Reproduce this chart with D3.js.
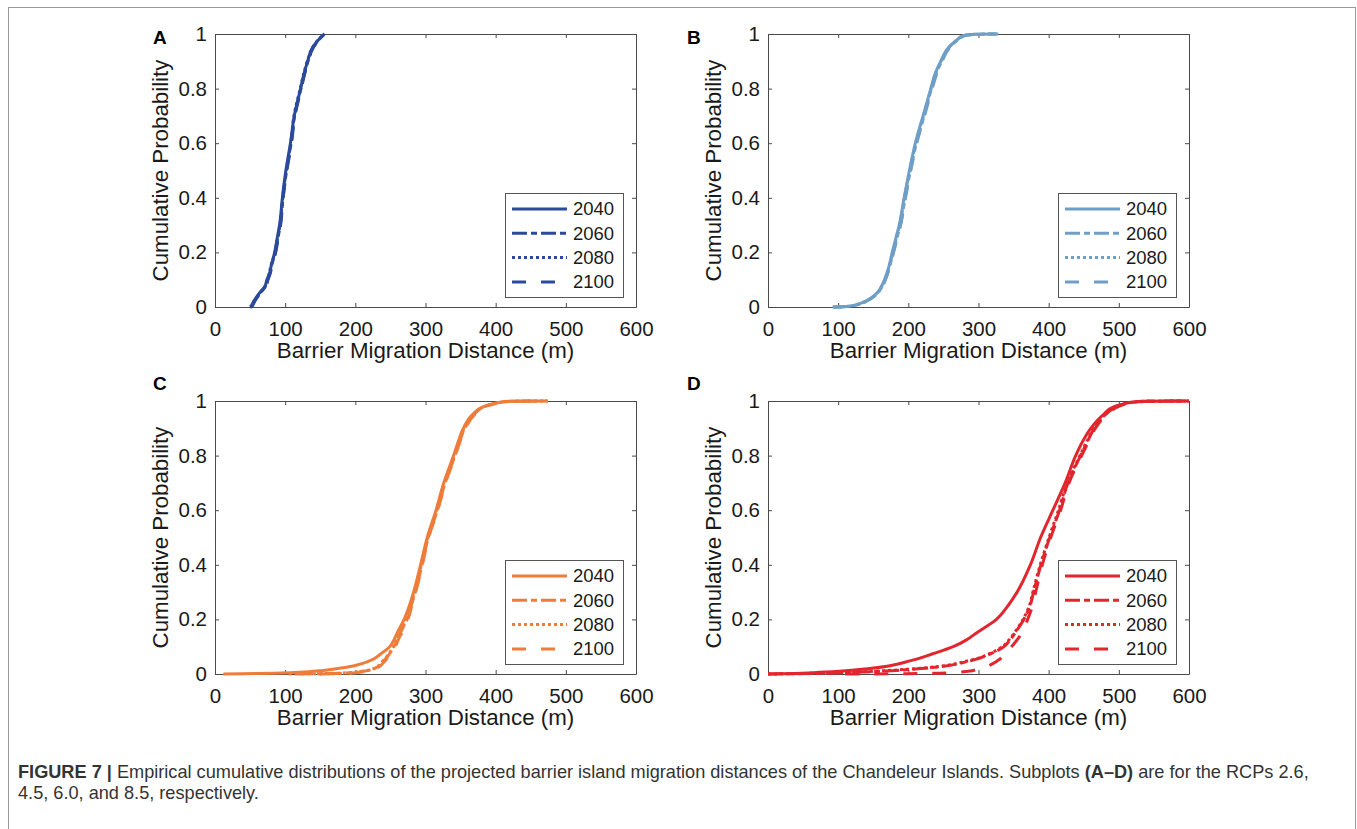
<!DOCTYPE html>
<html><head><meta charset="utf-8">
<script src="https://cdn.jsdelivr.net/npm/d3@7"></script>
<style>
body{margin:0;background:#fff;}
svg{display:block;}
text{font-family:"Liberation Sans",Arial,Helvetica,sans-serif;}
</style>
</head><body>
<svg id="c" width="1357" height="829"></svg>
<script>
// ---------------- DATA ----------------
const years = ["2040", "2060", "2080", "2100"];
const panelLetters = ["A", "B", "C", "D"];
const xTicks = [0, 100, 200, 300, 400, 500, 600];
const yTicks = [0, 0.2, 0.4, 0.6, 0.8, 1];
const yTickLabels = ["0", "0.2", "0.4", "0.6", "0.8", "1"];
const xLabel = "Barrier Migration Distance (m)";
const yLabel = "Cumulative Probability";

// cumulative probability levels at which distances (m) were read
const levels = [0, 0.001, 0.005, 0.01, 0.02, 0.05, 0.075, 0.1, 0.125, 0.15, 0.2, 0.25, 0.3, 0.4, 0.5, 0.6, 0.7, 0.8, 0.85, 0.9, 0.95, 0.98, 0.99, 0.995, 0.999, 1];

// Panel A (RCP 2.6)
const a2040 = [50, 50.5, 52, 53, 55, 63, 71, 74, 78, 80, 85, 88.5, 92, 96, 101, 107.5, 113, 122, 126.5, 132, 139, 148, 152, 154, 155.5, 156];
const a2060 = [51, 51.5, 53, 54, 56, 64, 72, 75, 78.5, 80.5, 86, 89.5, 93, 97, 102, 108.5, 113.5, 122.5, 127, 132.5, 139.5, 148.5, 152, 154, 155, 155.5];
const a2080 = [50, 51, 52.5, 53.5, 55.5, 63.5, 71.5, 74.5, 77.5, 79.5, 85.5, 89, 92.5, 96.5, 101.5, 108, 112.5, 121.5, 126, 131.5, 139, 147.5, 151.5, 153.5, 155, 156];
const a2100 = [51, 52, 53.5, 54.5, 56.5, 64.5, 72.5, 75.5, 79, 81, 86.5, 90, 93.5, 97, 102.5, 109, 114, 123, 127.5, 133, 140, 149, 152.5, 154.5, 156, 157];
// Panel B (RCP 4.5)
const b2040 = [92, 105, 120, 128, 138, 155, 161.5, 166, 169.5, 172.5, 177, 182, 187, 194, 201.5, 210, 221, 232, 237.5, 246, 257, 270, 275, 280, 295, 328];
const b2060 = [95, 108, 122, 130, 139, 156, 162.5, 167, 170.5, 173.5, 178.5, 183.5, 188.5, 195.5, 203, 211.5, 222.5, 233, 239, 247.5, 258, 271, 276, 281, 297, 325];
const b2080 = [93, 106, 121, 129, 138.5, 155.5, 162, 166.5, 170, 173, 178, 182.5, 187.5, 194.5, 202, 210.5, 221.5, 232.5, 238, 246.5, 257.5, 270.5, 275.5, 280.5, 296, 322];
const b2100 = [94, 107, 121.5, 129.5, 139, 156, 163, 167.5, 171, 174, 179, 184, 189, 196, 203.5, 212, 223, 234, 240, 248, 259, 272, 277, 282, 298, 326];
// Panel C (RCP 6.0)
const c2040 = [12, 40, 107, 140, 175, 222, 237, 249, 255, 259.5, 269.5, 277, 283, 293, 302.5, 315, 326, 340, 346.5, 354, 367, 383.5, 396, 404, 420, 468];
const c2060 = [118, 150, 195, 212, 227, 241, 249, 255, 259.5, 264, 273.5, 279.5, 285.5, 295, 304, 317, 328, 342, 348.5, 356, 369, 385, 398, 406, 424, 475];
const c2080 = [105, 145, 192, 210, 226, 240, 248, 254, 258.5, 263, 272.5, 278.5, 284.5, 294, 303.5, 316, 327, 341, 347.5, 355, 368, 384.5, 397, 405, 422, 472];
const c2100 = [150, 175, 200, 215, 229, 243, 250.5, 257, 261, 266, 275, 280.5, 286, 295.5, 304.5, 317.5, 328.5, 342.5, 349, 357, 370, 386, 399, 407, 426, 474];
// Panel D (RCP 8.5)
const d2040 = [0, 20, 65, 102, 145, 205, 236, 264, 283, 297, 325.5, 342, 355, 374, 388.5, 406, 423.5, 438.5, 448, 460, 478, 494, 508, 517, 535, 600];
const d2060 = [0, 40, 110, 160, 218, 291, 318, 336, 345, 352, 364.5, 373.5, 378.5, 389, 401.5, 415.5, 427.5, 445.5, 455, 465, 481, 498, 509, 518, 540, 600];
const d2080 = [0, 30, 100, 150, 212, 288, 316, 334, 343.5, 351, 363.5, 372.5, 377.5, 388, 400.5, 414, 426.5, 444.5, 454, 464, 480, 497, 508, 517, 538, 600];
const d2100 = [110, 200, 262, 285, 302, 328, 338, 347, 355, 362, 370, 377, 381.5, 391, 403, 417, 429, 447, 456.5, 466.5, 483, 500, 511, 520, 542, 590];

const panelSeries = [
  [a2040, a2060, a2080, a2100],
  [b2040, b2060, b2080, b2100],
  [c2040, c2060, c2080, c2100],
  [d2040, d2060, d2080, d2100]
];

// ---------------- STYLE / LAYOUT ----------------
const panelColors = ["#2c4a9b", "#6f9fc7", "#ee7c3a", "#e1262e"];
const dashes = [null, "15,4,6,4", "3,3", "14,15"];
const W = 421, H = 273;
const layout = [
  {left: 215, top: 34, lx: 153, ly: 44},
  {left: 768, top: 34, lx: 687, ly: 44},
  {left: 215, top: 401, lx: 153, ly: 390},
  {left: 768, top: 401, lx: 687, ly: 390}
];
const axisColor = "#4a4a4a", textColor = "#1a1a1a";

const svg = d3.select("#c");
svg.append("rect").attr("x", 8.5).attr("y", 7.5).attr("width", 1347).attr("height", 840)
  .attr("fill", "none").attr("stroke", "#9a9a9a").attr("stroke-width", 1);

const x = d3.scaleLinear().domain([0, 600]).range([0, W]);
const y = d3.scaleLinear().domain([0, 1]).range([H, 0]);
const line = d3.line().x(d => x(d[0])).y(d => y(d[1])).curve(d3.curveMonotoneY);

panelSeries.forEach((series, i) => {
  const L = layout[i];
  const col = panelColors[i];
  const g = svg.append("g").attr("transform", `translate(${L.left},${L.top})`);

  g.append("clipPath").attr("id", "clip" + i)
    .append("rect").attr("x", 0).attr("y", -3).attr("width", W).attr("height", H + 6);

  // axes
  const ax = g.append("g").attr("transform", `translate(0,${H})`)
    .call(d3.axisBottom(x).tickValues(xTicks).tickSizeInner(-4).tickSizeOuter(0).tickPadding(14));
  const ay = g.append("g")
    .call(d3.axisLeft(y).tickValues(yTicks).tickFormat((d, k) => yTickLabels[k]).tickSizeInner(-4).tickSizeOuter(0).tickPadding(8));
  const axT = g.append("g")
    .call(d3.axisTop(x).tickValues(xTicks).tickSizeInner(-4).tickSizeOuter(0).tickFormat(""));
  const ayR = g.append("g").attr("transform", `translate(${W},0)`)
    .call(d3.axisRight(y).tickValues(yTicks).tickSizeInner(-4).tickSizeOuter(0).tickFormat(""));
  [ax, ay, axT, ayR].forEach(a => {
    a.select(".domain").attr("stroke", axisColor);
    a.selectAll(".tick line").attr("stroke", axisColor);
    a.selectAll(".tick text").attr("fill", textColor).style("font-size", "20.5px")
      .style("font-family", '"Liberation Sans",Arial,sans-serif');
  });

  // curves
  const cg = g.append("g").attr("clip-path", `url(#clip${i})`);
  series.forEach((vals, j) => {
    cg.append("path")
      .datum(levels.map((p, k) => [vals[k], p]))
      .attr("d", line)
      .attr("fill", "none")
      .attr("stroke", col)
      .attr("stroke-width", 3)
      .attr("stroke-dasharray", dashes[j]);
  });

  // axis labels
  g.append("text").attr("x", W / 2).attr("y", H + 51).attr("text-anchor", "middle")
    .attr("fill", textColor).style("font-size", "22.3px").text(xLabel);
  g.append("text").attr("transform", `translate(-47,${H / 2}) rotate(-90)`).attr("text-anchor", "middle")
    .attr("fill", textColor).style("font-size", "22.3px").text(yLabel);

  // legend
  const lw = 118, lh = 104;
  const lg = g.append("g").attr("transform", `translate(${W - 13 - lw},${H - 10 - lh})`);
  lg.append("rect").attr("x", 0.5).attr("y", 0.5).attr("width", lw).attr("height", lh)
    .attr("fill", "#fff").attr("stroke", "#555").attr("stroke-width", 1);
  years.forEach((yr, j) => {
    const yy = 16 + j * 24.3;
    lg.append("line").attr("x1", 7).attr("x2", 62).attr("y1", yy).attr("y2", yy)
      .attr("stroke", col).attr("stroke-width", 3).attr("stroke-dasharray", dashes[j]);
    lg.append("text").attr("x", 68).attr("y", yy).attr("dy", "0.35em")
      .attr("fill", textColor).style("font-size", "18.5px").text(yr);
  });

  // panel letter
  svg.append("text").attr("x", L.lx).attr("y", L.ly).attr("fill", "#000")
    .style("font-size", "19px").style("font-weight", "bold").text(panelLetters[i]);
});

// caption
const cap1 = svg.append("text").attr("x", 18).attr("y", 778).attr("fill", "#333").style("font-size", "16px");
cap1.append("tspan").style("font-weight", "bold").text("FIGURE 7 | ");
cap1.append("tspan").text("Empirical cumulative distributions of the projected barrier island migration distances of the Chandeleur Islands. Subplots ");
cap1.append("tspan").style("font-weight", "bold").text("(A–D)");
cap1.append("tspan").text(" are for the RCPs 2.6,");
const w1 = cap1.node().getComputedTextLength();
const fs = 16 * 1292 / w1;
cap1.style("font-size", fs + "px");
svg.append("text").attr("x", 18).attr("y", 799).attr("fill", "#333").style("font-size", fs + "px")
  .text("4.5, 6.0, and 8.5, respectively.");
</script>
</body></html>
